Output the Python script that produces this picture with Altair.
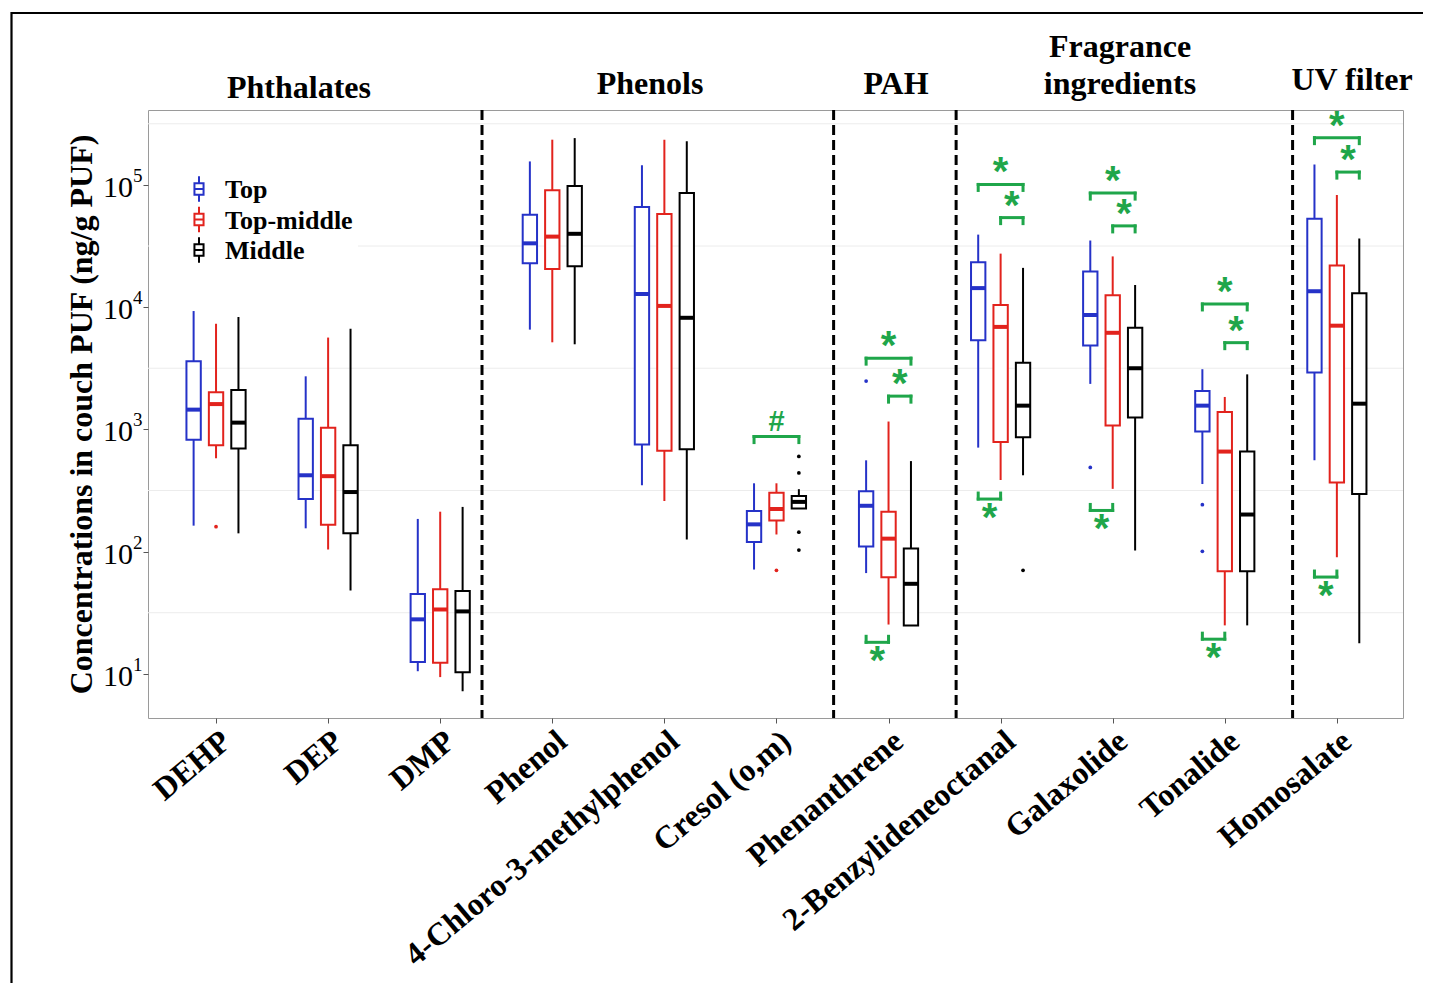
import json
import altair as alt
import pandas as pd

# ---------------- data ----------------
categories = ["DEHP", "DEP", "DMP", "Phenol", "4-Chloro-3-methylphenol", "Cresol (o,m)",
              "Phenanthrene", "2-Benzylideneoctanal", "Galaxolide", "Tonalide", "Homosalate"]
groups = ["Top", "Top-middle", "Middle"]

# box statistics (ng/g PUF) per group, one value per category
top_lower  = [163, 155, 10.5, 6546, 349, 71.3, 66.7, 709, 2355, 357, 558]
top_q1     = [822, 269, 12.5, 22900, 753, 120, 110, 5350, 4856, 962, 2923]
top_median = [1450, 421, 27.9, 33260, 12800, 167, 237, 14310, 8620, 1563, 13490]
top_q3     = [3600, 1222, 44.9, 56900, 66070, 215, 312, 23240, 19590, 2060, 52800]
top_upper  = [9290, 2716, 185, 155600, 144500, 362, 558, 39200, 35070, 3105, 146600]

tm_lower  = [580, 104, 9.4, 5155, 259, 138, 25.3, 385, 326, 24.9, 89.8]
tm_q1     = [741, 166, 12.3, 20480, 668, 180, 61.8, 787, 1077, 69.2, 368]
tm_median = [1610, 414, 33.6, 37750, 10230, 223, 127.6, 6890, 6166, 658, 7050]
tm_q3     = [2014, 1030, 49.1, 90300, 57800, 303, 212, 10400, 12530, 1387, 21900]
tm_upper  = [7310, 5636, 212, 234400, 234400, 362, 1159, 27400, 26000, 1841, 82600]

mid_lower  = [141, 48, 7.2, 4966, 125.6, 225, 24.9, 421, 102, 24.9, 17.8]
mid_q1     = [698, 141, 10.3, 21580, 689, 225, 24.9, 861, 1250, 69.2, 296]
mid_median = [1135, 307, 32.4, 39800, 8180, 255, 54.5, 1563, 3162, 201, 1622]
mid_q3     = [2100, 741, 47.7, 98100, 85700, 285, 106, 3500, 6790, 658, 13000]
mid_upper  = [8300, 6640, 232, 241500, 227600, 324, 550, 20950, 15200, 2818, 36400]

outlier_cat = ["DEHP", "Cresol (o,m)", "Cresol (o,m)", "Cresol (o,m)", "Cresol (o,m)", "Cresol (o,m)",
               "Phenanthrene", "2-Benzylideneoctanal", "Galaxolide", "Tonalide", "Tonalide"]
outlier_group = ["Top-middle", "Top-middle", "Middle", "Middle", "Middle", "Middle",
                 "Top", "Middle", "Top", "Top", "Top"]
outlier_value = [160, 70.3, 601, 440, 144, 103, 2483, 70.3, 488, 242, 100.5]

# significance brackets
bracket_cat = ["Cresol (o,m)",
               "Phenanthrene", "Phenanthrene", "Phenanthrene",
               "2-Benzylideneoctanal", "2-Benzylideneoctanal", "2-Benzylideneoctanal",
               "Galaxolide", "Galaxolide", "Galaxolide",
               "Tonalide", "Tonalide", "Tonalide",
               "Homosalate", "Homosalate", "Homosalate"]
bracket_from = ["Top",
                "Top", "Top-middle", "Top",
                "Top", "Top-middle", "Top",
                "Top", "Top-middle", "Top",
                "Top", "Top-middle", "Top",
                "Top", "Top-middle", "Top"]
bracket_to = ["Middle",
              "Middle", "Middle", "Top-middle",
              "Middle", "Middle", "Top-middle",
              "Middle", "Middle", "Top-middle",
              "Middle", "Middle", "Top-middle",
              "Middle", "Middle", "Top-middle"]
bracket_value = [873,
                 3826, 1870, 18.1,
                 100900, 54000, 269,
                 85700, 46200, 217,
                 10620, 5120, 19.2,
                 243600, 127300, 61.9]
bracket_side = ["above",
                "above", "above", "below",
                "above", "above", "below",
                "above", "above", "below",
                "above", "above", "below",
                "above", "above", "below"]
bracket_label = ["#"] + ["*"] * 15

ytick_values = [10, 100, 1000, 10000, 100000]
ytick_exponents = ["1", "2", "3", "4", "5"]
minor_grid_values = [31.6, 316, 3162, 31623, 316228]

separator_x = [3.373, 6.51, 7.603, 10.605]

section_titles = ["Phthalates", "Phenols", "PAH", "Fragrance", "ingredients", "UV filter"]

# ---------------- layout / style ----------------
W, H = 1255, 608
SERIF = "Liberation Serif"
GREEN = "#1fa64a"
group_colors = ["#2532c8", "#e2231d", "#000000"]
title_layout = [(151, -12), (502, -16), (748, -16), (972, -53), (972, -16), (1204, -20)]

stats = {
    "Top": (top_lower, top_q1, top_median, top_q3, top_upper),
    "Top-middle": (tm_lower, tm_q1, tm_median, tm_q3, tm_upper),
    "Middle": (mid_lower, mid_q1, mid_median, mid_q3, mid_upper),
}
rows = []
for gi, g in enumerate(groups):
    lo, q1, md, q3, hi = stats[g]
    for ci, c in enumerate(categories):
        rows.append(dict(cat=c, ci=ci + 1, group=g, gi=gi,
                         lo=lo[ci], q1=q1[ci], med=md[ci], q3=q3[ci], hi=hi[ci]))
box_df = pd.DataFrame(rows)

out_df = pd.DataFrame({
    "ci": [categories.index(c) + 1 for c in outlier_cat],
    "gi": [groups.index(g) for g in outlier_group],
    "group": outlier_group,
    "v": outlier_value,
})

br_df = pd.DataFrame({
    "ci": [categories.index(c) + 1 for c in bracket_cat],
    "g1": [groups.index(g) for g in bracket_from],
    "g2": [groups.index(g) for g in bracket_to],
    "y": bracket_value,
    "side": bracket_side,
    "label": bracket_label,
})

xs = alt.Scale(domain=[0.393, 11.59], nice=False, zero=False)
ys = alt.Scale(type="log", domain=[4.35, 410000], nice=False)
color_scale = alt.Scale(domain=groups, range=group_colors)

label_expr = json.dumps(categories) + "[round(datum.value) - 1]"
x_axis = alt.Axis(values=list(range(1, 12)), labelExpr=label_expr, labelAngle=-40,
                  labelAlign="right", labelBaseline="top", labelFont=SERIF, labelFontSize=32,
                  labelFontWeight="bold", labelColor="black", labelPadding=2, labelLimit=800,
                  labelOverlap=False, labelBound=False, labelFlush=False,
                  tickColor="#555555", tickSize=5, tickWidth=1, domain=False, grid=False)
y_axis = alt.Axis(values=ytick_values, labels=False, tickColor="#555555", tickSize=5, tickWidth=1,
                  domain=False, grid=False, title="Concentrations in couch PUF (ng/g PUF)",
                  titleFont=SERIF, titleFontSize=32, titleFontWeight="bold", titleColor="black",
                  titleAngle=270, titleX=-57, titleY=H / 2, titleAlign="center",
                  titleBaseline="alphabetic")


def X(field):
    return alt.X(field, type="quantitative", scale=xs, axis=x_axis, title=None)


def Y(field):
    return alt.Y(field, type="quantitative", scale=ys, axis=y_axis)


stroke_enc = alt.Stroke("group:N", scale=color_scale, legend=None)

# ---------------- layers ----------------
grid = alt.Chart(pd.DataFrame({"v": minor_grid_values})).mark_rule(
    color="#ececec", strokeWidth=1).encode(x=alt.value(0), x2=alt.value(W), y=Y("v"))

seps = alt.Chart(pd.DataFrame({"s": separator_x})).mark_rule(
    color="black", strokeWidth=3, strokeDash=[10, 5]).encode(
    x=X("s"), y=alt.value(0), y2=alt.value(H))

box = alt.Chart(box_df).transform_calculate(
    xc="datum.ci + (datum.gi - 1) * 0.2"
).transform_calculate(
    xl="datum.xc - 0.064", xr="datum.xc + 0.064"
)

whiskers = box.mark_rule(strokeWidth=2).encode(x=X("xc"), y=Y("lo"), y2="hi:Q", stroke=stroke_enc)
rects = box.mark_rect(fill="white", strokeWidth=2).encode(
    x=X("xl"), x2="xr:Q", y=Y("q1"), y2="q3:Q", stroke=stroke_enc)
medians = box.mark_rule(strokeWidth=4).encode(x=X("xl"), x2="xr:Q", y=Y("med"), stroke=stroke_enc)

outliers = alt.Chart(out_df).transform_calculate(
    xc="datum.ci + (datum.gi - 1) * 0.2"
).mark_circle(size=14, opacity=1).encode(
    x=X("xc"), y=Y("v"), fill=alt.Fill("group:N", scale=color_scale, legend=None))

br = alt.Chart(br_df).transform_calculate(
    x1="datum.ci + (datum.g1 - 1) * 0.2",
    x2="datum.ci + (datum.g2 - 1) * 0.2",
    yleg="datum.side == 'above' ? datum.y / 1.12 : datum.y * 1.12",
).transform_calculate(xm="(datum.x1 + datum.x2) / 2")

br_h = br.mark_rule(color=GREEN, strokeWidth=3, strokeCap="square").encode(x=X("x1"), x2="x2:Q", y=Y("y"))
br_l = br.mark_rule(color=GREEN, strokeWidth=3, strokeCap="square").encode(x=X("x1"), y=Y("y"), y2="yleg:Q")
br_r = br.mark_rule(color=GREEN, strokeWidth=3, strokeCap="square").encode(x=X("x2"), y=Y("y"), y2="yleg:Q")

star_above = br.transform_filter("datum.side == 'above' && datum.label == '*'").mark_text(
    font="Liberation Sans", fontSize=40, fontWeight="bold", color=GREEN, align="center",
    baseline="alphabetic", dy=1).encode(x=X("xm"), y=Y("y"), text="label:N")
star_below = br.transform_filter("datum.side == 'below'").mark_text(
    font="Liberation Sans", fontSize=40, fontWeight="bold", color=GREEN, align="center",
    baseline="alphabetic", dy=32).encode(x=X("xm"), y=Y("y"), text="label:N")
hash_above = br.transform_filter("datum.label == '#'").mark_text(
    font="Liberation Sans", fontSize=29, fontWeight="bold", color=GREEN, align="center",
    baseline="alphabetic", dy=-6).encode(x=X("xm"), y=Y("y"), text="label:N")

ytick_df = pd.DataFrame({"v": ytick_values, "e": ytick_exponents})
ytick_base = alt.Chart(ytick_df).mark_text(
    font=SERIF, fontSize=30, color="black", align="right", baseline="middle", dy=3).encode(
    x=alt.value(-15), y=Y("v"), text=alt.value("10"))
ytick_exp = alt.Chart(ytick_df).mark_text(
    font=SERIF, fontSize=19, color="black", align="left", baseline="middle", dy=-9).encode(
    x=alt.value(-15), y=Y("v"), text="e:N")

title_layers = []
for t, (tx, ty) in zip(section_titles, title_layout):
    title_layers.append(
        alt.Chart(pd.DataFrame({"t": [t]})).mark_text(
            font=SERIF, fontSize=32, fontWeight="bold", color="black",
            align="center", baseline="alphabetic").encode(
            x=alt.value(tx), y=alt.value(ty), text="t:N"))

# manual legend (box-plot glyphs)
legend_path = ("M0,-1L0,-0.46M-0.36,-0.46L0.36,-0.46L0.36,0.46L-0.36,0.46Z"
               "M-0.36,0L0.36,0M0,0.46L0,1")
legend_bg = alt.Chart(pd.DataFrame({"a": [0]})).mark_rect(fill="white").encode(
    x=alt.value(1), x2=alt.value(210), y=alt.value(60), y2=alt.value(156))
legend_layers = [legend_bg]
for i, (g, col) in enumerate(zip(groups, group_colors)):
    gdf = pd.DataFrame({"label": [g]})
    ly = 79 + 30.5 * i
    legend_layers.append(
        alt.Chart(gdf).mark_point(shape=legend_path, filled=False, size=640, strokeWidth=2,
                                  color=col, opacity=1).encode(
            x=alt.value(51), y=alt.value(ly)))
    legend_layers.append(
        alt.Chart(gdf).mark_text(font=SERIF, fontSize=26, fontWeight="bold", color="black",
                                 align="left", baseline="middle", dy=1).encode(
            x=alt.value(77), y=alt.value(ly), text="label:N"))

frame = alt.Chart(pd.DataFrame({"a": [0]})).mark_rect(
    fillOpacity=0, stroke="black", strokeWidth=2.2).encode(
    x=alt.value(-136.5), x2=alt.value(1300), y=alt.value(-97), y2=alt.value(900))

chart = alt.layer(
    grid, seps, whiskers, rects, medians, outliers, br_h, br_l, br_r,
    star_above, star_below, hash_above, ytick_base, ytick_exp, *title_layers,
    *legend_layers, frame
).properties(
    width=W, height=H,
    padding={"left": 140, "top": 102, "right": 20, "bottom": 265},
    autosize=alt.AutoSizeParams(type="none"),
    background="white",
).configure_view(stroke="#9a9a9a", strokeWidth=1)

chart.save("out.html", embed_options={"renderer": "svg", "actions": False})
